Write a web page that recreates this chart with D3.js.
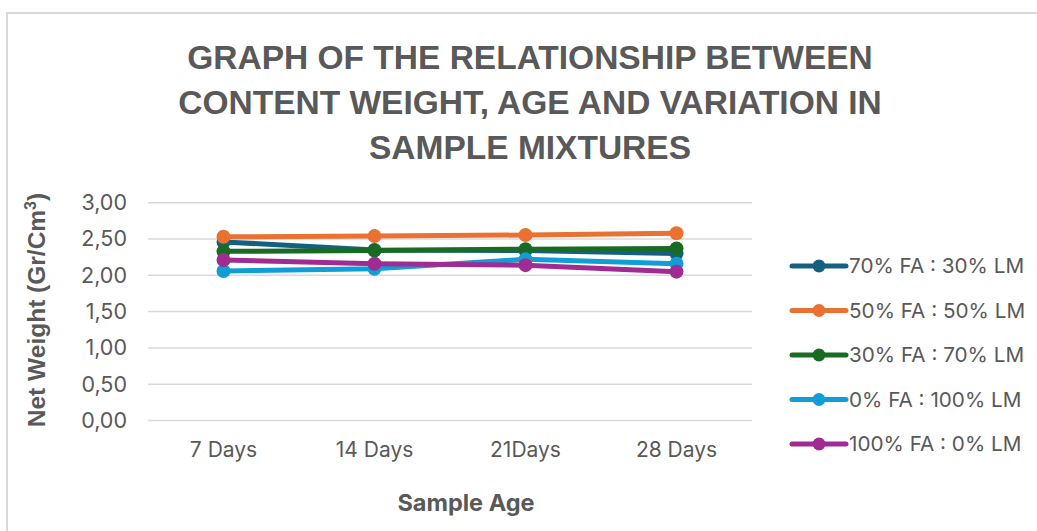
<!DOCTYPE html>
<html><head><meta charset="utf-8">
<script src="https://cdn.jsdelivr.net/npm/d3@7"></script>
<style>body{margin:0;background:#fff}svg{display:block}</style>
</head><body>
<svg id="c" width="1037" height="531"></svg>
<script>
const categories = ["7 Days", "14 Days", "21Days", "28 Days"];
const seriesNames = ["70% FA : 30% LM", "50% FA : 50% LM", "30% FA : 70% LM", "0% FA : 100% LM", "100% FA : 0% LM"];
const s70_30 = [2.46, 2.35, 2.34, 2.30];
const s50_50 = [2.53, 2.54, 2.555, 2.58];
const s30_70 = [2.33, 2.34, 2.36, 2.37];
const s0_100 = [2.06, 2.09, 2.22, 2.16];
const s100_0 = [2.21, 2.16, 2.14, 2.05];
const seriesValues = [s70_30, s50_50, s30_70, s0_100, s100_0];
const colors = ["#156082", "#E97132", "#196B24", "#0F9ED5", "#A02B93"];
const yTicks = [0, 0.5, 1, 1.5, 2, 2.5, 3];
const titleLines = ["GRAPH OF THE RELATIONSHIP BETWEEN", "CONTENT WEIGHT, AGE AND VARIATION IN", "SAMPLE MIXTURES"];

const svg = d3.select("#c");
const txt = "#595959";
const tickFont = "Inter, 'Open Sans', sans-serif";
const boldFont = "'Liberation Sans', Arial, sans-serif";

svg.append("rect").attr("x", 7).attr("y", 13).attr("width", 1040).attr("height", 530)
  .attr("fill", "#fff").attr("stroke", "#d9d9d9").attr("stroke-width", 2);

const x = d3.scaleBand().domain(categories).range([148, 752]);
const y = d3.scaleLinear().domain([0, 3]).range([420.5, 202.7]);

// title
svg.append("g").selectAll("text").data(titleLines).join("text")
  .attr("x", 530).attr("y", (d, i) => 69 + i * 45)
  .attr("text-anchor", "middle").attr("fill", txt)
  .attr("font-family", boldFont).attr("font-weight", "bold")
  .attr("font-size", 33.5).text(d => d);

// gridlines
svg.append("g").selectAll("line").data(yTicks).join("line")
  .attr("x1", 148).attr("x2", 752).attr("y1", d => y(d)).attr("y2", d => y(d))
  .attr("stroke", "#d9d9d9").attr("stroke-width", 1.5);

// y axis
const yAxis = d3.axisLeft(y).tickValues(yTicks).tickSize(0).tickPadding(0)
  .tickFormat(d => d3.format(".2f")(d).replace(".", ","));
const ya = svg.append("g").attr("transform", "translate(127,0)").call(yAxis);
ya.select(".domain").remove();
ya.selectAll("text").attr("fill", txt).attr("font-size", 21.5).attr("font-family", tickFont);

// x axis
const xAxis = d3.axisBottom(x).tickSize(0).tickPadding(0);
const xa = svg.append("g").attr("transform", "translate(0,442)").call(xAxis);
xa.select(".domain").remove();
xa.selectAll("text").attr("fill", txt).attr("font-size", 21).attr("font-family", tickFont);

// axis titles
const yt = svg.append("text").attr("transform", "translate(45,310) rotate(-90)")
  .attr("text-anchor", "middle").attr("fill", txt).attr("font-weight", "bold")
  .attr("font-family", boldFont).attr("font-size", 24.5);
yt.append("tspan").text("Net Weight (Gr/Cm");
yt.append("tspan").attr("font-size", 16).attr("dy", -9).text("3");
yt.append("tspan").attr("dy", 9).text(")");

svg.append("text").attr("x", 466).attr("y", 511)
  .attr("text-anchor", "middle").attr("fill", txt).attr("font-weight", "bold")
  .attr("font-family", tickFont).attr("font-size", 23.5).text("Sample Age");

// series
const line = d3.line().x((d, i) => x(categories[i]) + x.bandwidth() / 2).y(d => y(d));
const sg = svg.append("g").selectAll("g").data(seriesValues).join("g");
sg.append("path").attr("d", d => line(d)).attr("fill", "none")
  .attr("stroke", (d, i) => colors[i]).attr("stroke-width", 5).attr("stroke-linecap", "round");
sg.each(function(vals, si) {
  d3.select(this).selectAll("circle").data(vals).join("circle")
    .attr("cx", (d, i) => x(categories[i]) + x.bandwidth() / 2).attr("cy", d => y(d))
    .attr("r", 7).attr("fill", colors[si]);
});

// legend
const lg = svg.append("g").selectAll("g").data(seriesNames).join("g")
  .attr("transform", (d, i) => `translate(0,${266 + i * 44.5})`);
lg.append("line").attr("x1", 792).attr("x2", 846).attr("stroke", (d, i) => colors[i])
  .attr("stroke-width", 5).attr("stroke-linecap", "round");
lg.append("circle").attr("cx", 819).attr("r", 6.5).attr("fill", (d, i) => colors[i]);
lg.append("text").attr("x", 849).attr("dy", "0.35em").attr("fill", txt)
  .attr("font-family", tickFont).attr("font-size", 20.7).text(d => d);
</script>
</body></html>
